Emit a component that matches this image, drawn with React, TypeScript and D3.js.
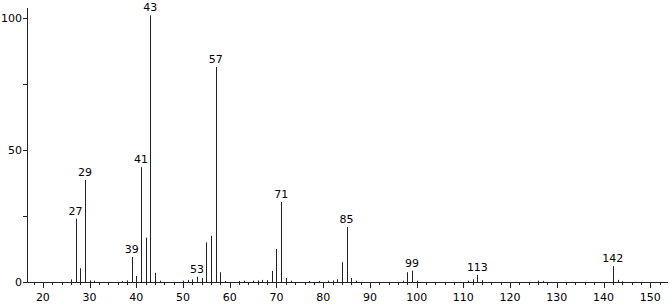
import React from "react";
import * as d3 from "d3";

const mz = [26, 27, 28, 29, 30, 31, 37, 38, 39, 40, 41, 42, 43, 44, 45, 50, 51, 52, 53, 54, 55, 56, 57, 58, 59, 62, 63, 65, 66, 67, 68, 69, 70, 71, 72, 73, 77, 79, 81, 82, 83, 84, 85, 86, 87, 97, 98, 99, 100, 111, 112, 113, 114, 126, 127, 142, 143, 144];
const intensity = [1, 24, 5.2, 38.6, 0.6, 0.5, 0.4, 0.6, 9.5, 2.3, 43.5, 16.8, 101, 3.5, 0.5, 0.5, 0.8, 1, 2, 1.5, 15, 17.5, 81.4, 3.7, 0.4, 0.4, 0.5, 0.5, 0.6, 0.8, 0.7, 4.2, 12.5, 30.3, 1.5, 0.5, 0.4, 0.4, 0.5, 0.6, 1, 7.5, 20.8, 1.5, 0.5, 0.5, 3.7, 4.3, 0.5, 0.5, 1, 2.7, 0.7, 0.5, 0.4, 6, 0.8, 0.3];
const labeledPeaks = [27, 29, 39, 41, 43, 53, 57, 71, 85, 99, 113, 142];
const xTickLabels = [20, 30, 40, 50, 60, 70, 80, 90, 100, 110, 120, 130, 140, 150];
const yTickLabels = [0, 50, 100];
const yMinorTicks = [25, 75];

const W = 672;
const H = 304;
const FONT = "'DejaVu Sans', Verdana, sans-serif";

export default function App() {
  const x = d3.scaleLinear().domain([16.6, 153.8]).range([27, 668]);
  const y = d3.scaleLinear().domain([0, 100]).range([282, 18]);
  const minorX = d3.range(18, 153, 2);
  const base = y(0);

  return (
    <svg
      width={W}
      height={H}
      style={{ position: "absolute", left: 0, top: 0, background: "#fff" }}
      fontFamily={FONT}
    >
      {mz.map((m, i) => (
        <line
          key={"p" + m}
          x1={Math.round(x(m)) + 0.5}
          x2={Math.round(x(m)) + 0.5}
          y1={base}
          y2={y(intensity[i])}
          stroke="#222"
          strokeWidth={1}
        />
      ))}
      <line x1={27} x2={668} y1={base + 0.5} y2={base + 0.5} stroke="#222" />
      {minorX.map((t) => (
        <line
          key={"mx" + t}
          x1={Math.round(x(t)) + 0.5}
          x2={Math.round(x(t)) + 0.5}
          y1={base}
          y2={base + (t % 10 === 0 ? 6 : 3)}
          stroke="#222"
        />
      ))}
      {xTickLabels.map((t) => (
        <text key={"xl" + t} x={x(t)} y={301} fontSize={11} textAnchor="middle" fill="#000">
          {t}
        </text>
      ))}
      <line x1={27.5} x2={27.5} y1={8} y2={base + 0.5} stroke="#222" />
      {[...yTickLabels, ...yMinorTicks].map((t) => (
        <line
          key={"yt" + t}
          x1={23}
          x2={27}
          y1={Math.round(y(t)) + 0.5}
          y2={Math.round(y(t)) + 0.5}
          stroke="#222"
        />
      ))}
      {yTickLabels.map((t) => (
        <text key={"yl" + t} x={22} y={y(t)} dy="0.35em" fontSize={11} textAnchor="end" fill="#000">
          {t}
        </text>
      ))}
      {labeledPeaks.map((m) => {
        const i = mz.indexOf(m);
        return (
          <text
            key={"lab" + m}
            x={x(m)}
            y={y(intensity[i]) - 4}
            fontSize={11}
            textAnchor="middle"
            fill="#000"
          >
            {m}
          </text>
        );
      })}
    </svg>
  );
}
